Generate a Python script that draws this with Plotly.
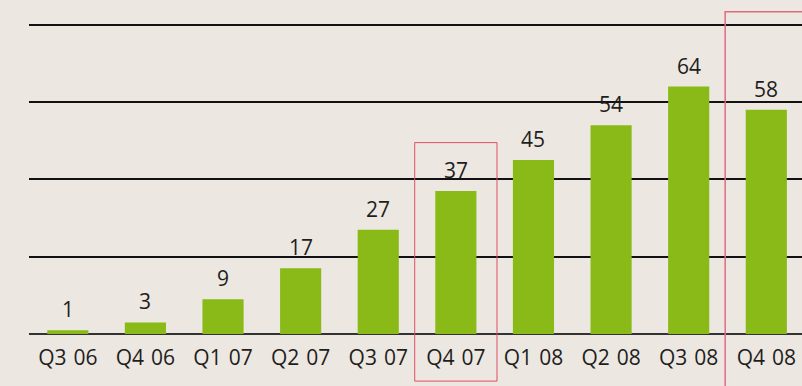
import plotly.graph_objects as go

# Quarterly values
quarters = ["Q3 06", "Q4 06", "Q1 07", "Q2 07", "Q3 07",
            "Q4 07", "Q1 08", "Q2 08", "Q3 08", "Q4 08"]
values = [1, 3, 9, 17, 27, 37, 45, 54, 64, 58]

# Quarters that get a highlight frame
highlighted = ["Q4 07", "Q4 08"]

BG = "#ece7e0"
BAR = "#8aba17"
TEXT = "#1e1e1e"
FONT = "Open Sans"

x_idx = list(range(len(quarters)))
# slightly wider gap between quarter and year in the axis labels
tick_text = [q.replace(" ", "\u2004") for q in quarters]

fig = go.Figure()
fig.add_trace(go.Bar(
    x=x_idx, y=values, width=0.53,
    marker=dict(color=BAR, line=dict(width=0)),
    hoverinfo="skip",
))

# value labels above each bar
for i, v in zip(x_idx, values):
    fig.add_annotation(
        x=i, y=v, text=str(v), showarrow=False,
        xref="x", yref="y", yanchor="middle", yshift=21,
        font=dict(family=FONT, size=21, color=TEXT),
    )

# highlight frames around selected quarters
frame_style = {
    "Q4 07": dict(y0=-0.141, y1=0.573, color="#dd4f68", width=1),
    "Q4 08": dict(y0=-0.25, y1=0.965, color="#e26a80", width=1.5),
}
for q in highlighted:
    i = quarters.index(q)
    s = frame_style[q]
    fig.add_shape(
        type="rect", xref="x", yref="paper",
        x0=i - 0.53, x1=i + 0.53, y0=s["y0"], y1=s["y1"],
        line=dict(color=s["color"], width=s["width"]),
        fillcolor="rgba(0,0,0,0)", layer="above",
    )

fig.update_layout(
    width=802, height=386,
    margin=dict(l=29, r=0, t=0, b=52),
    paper_bgcolor=BG, plot_bgcolor=BG,
    showlegend=False,
    bargap=0.47,
    xaxis=dict(
        range=[-0.5, 9.46],
        tickmode="array", tickvals=x_idx, ticktext=tick_text,
        showgrid=False, zeroline=False, showline=False,
        ticks="outside", ticklen=5, tickcolor=BG,
        tickfont=dict(family=FONT, size=21, color=TEXT),
        fixedrange=True,
    ),
    yaxis=dict(
        range=[0, 86.4], dtick=20, tick0=0,
        showgrid=True, gridcolor="#111111", gridwidth=2,
        zeroline=True, zerolinecolor="#333333", zerolinewidth=2,
        showticklabels=False, showline=False,
        fixedrange=True,
    ),
)

fig.write_html("out.html")
